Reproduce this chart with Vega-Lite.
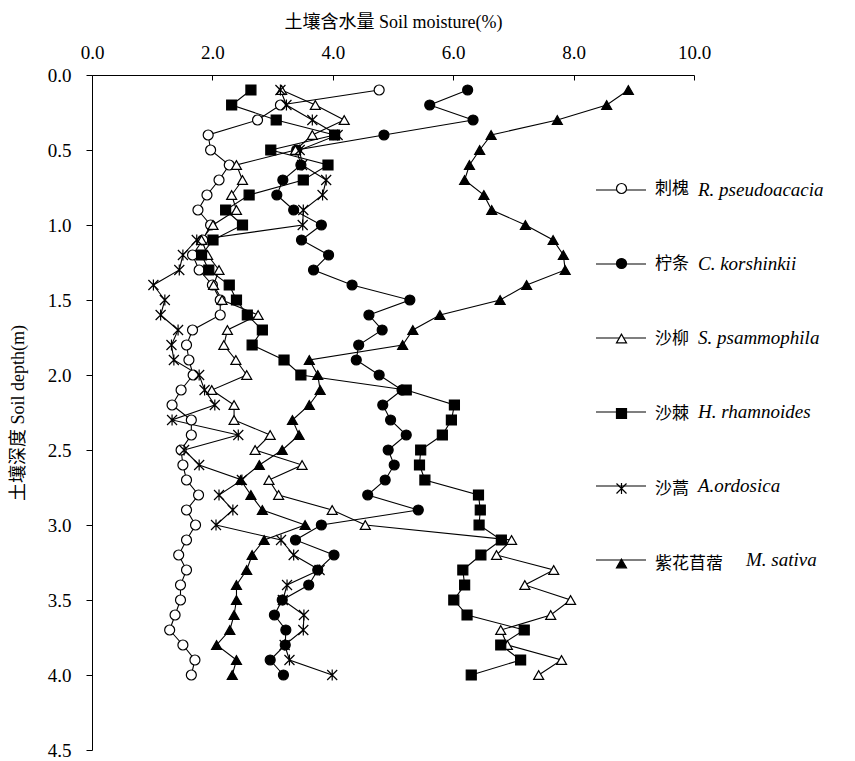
{
  "$schema": "https://vega.github.io/schema/vega-lite/v6.json",
  "width": 602,
  "height": 675,
  "autosize": {"type": "none"},
  "padding": {"left": 92, "top": 75, "right": 161, "bottom": 11},
  "background": "white",
  "config": {"view": {"stroke": null}, "font": "Liberation Serif"},
  "datasets": {
    "series": [
      {"key": "R", "cn": "刺槐", "latin": "R. pseudoacacia"},
      {"key": "C", "cn": "柠条", "latin": "C. korshinkii"},
      {"key": "S", "cn": "沙柳", "latin": "S. psammophila"},
      {"key": "H", "cn": "沙棘", "latin": "H. rhamnoides"},
      {"key": "A", "cn": "沙蒿", "latin": "A.ordosica"},
      {"key": "M", "cn": "紫花苜蓿", "latin": "M. sativa"}
    ],
    "main": [
      {"depth": 0.1, "R": 4.77, "C": 6.24, "S": 3.15, "H": 2.64, "A": 3.13, "M": 8.91},
      {"depth": 0.2, "R": 3.13, "C": 5.61, "S": 3.71, "H": 2.32, "A": 3.23, "M": 8.55},
      {"depth": 0.3, "R": 2.75, "C": 6.33, "S": 4.19, "H": 3.06, "A": 3.66, "M": 7.73},
      {"depth": 0.4, "R": 1.93, "C": 4.85, "S": 3.66, "H": 4.03, "A": 4.08, "M": 6.63},
      {"depth": 0.5, "R": 1.97, "C": 3.40, "S": 3.38, "H": 2.97, "A": 3.45, "M": 6.44},
      {"depth": 0.6, "R": 2.28, "C": 3.47, "S": 2.40, "H": 3.92, "A": 3.49, "M": 6.27},
      {"depth": 0.7, "R": 2.11, "C": 3.17, "S": 2.50, "H": 3.51, "A": 3.89, "M": 6.19},
      {"depth": 0.8, "R": 1.91, "C": 3.07, "S": 2.32, "H": 2.61, "A": 3.83, "M": 6.51},
      {"depth": 0.9, "R": 1.76, "C": 3.35, "S": 2.40, "H": 2.22, "A": 3.51, "M": 6.64},
      {"depth": 1.0, "R": 1.97, "C": 3.81, "S": 2.01, "H": 2.50, "A": 3.50, "M": 7.20},
      {"depth": 1.1, "R": 1.84, "C": 3.48, "S": 1.82, "H": 2.01, "A": 1.74, "M": 7.66},
      {"depth": 1.2, "R": 1.67, "C": 3.93, "S": 1.92, "H": 1.82, "A": 1.51, "M": 7.83},
      {"depth": 1.3, "R": 1.78, "C": 3.68, "S": 2.11, "H": 1.94, "A": 1.45, "M": 7.86},
      {"depth": 1.4, "R": 2.00, "C": 4.32, "S": 2.02, "H": 2.28, "A": 1.02, "M": 7.22},
      {"depth": 1.5, "R": 2.13, "C": 5.28, "S": 2.16, "H": 2.40, "A": 1.21, "M": 6.78},
      {"depth": 1.6, "R": 2.13, "C": 4.60, "S": 2.76, "H": 2.58, "A": 1.14, "M": 5.78},
      {"depth": 1.7, "R": 1.67, "C": 4.82, "S": 2.25, "H": 2.83, "A": 1.43, "M": 5.33},
      {"depth": 1.8, "R": 1.57, "C": 4.43, "S": 2.19, "H": 2.66, "A": 1.32, "M": 5.16},
      {"depth": 1.9, "R": 1.61, "C": 4.39, "S": 2.39, "H": 3.19, "A": 1.36, "M": 3.61},
      {"depth": 2.0, "R": 1.68, "C": 4.77, "S": 2.57, "H": 3.47, "A": 1.78, "M": 3.75},
      {"depth": 2.1, "R": 1.48, "C": 5.15, "S": 1.99, "H": 5.22, "A": 1.87, "M": 3.79},
      {"depth": 2.2, "R": 1.33, "C": 4.83, "S": 2.36, "H": 6.02, "A": 2.04, "M": 3.61},
      {"depth": 2.3, "R": 1.65, "C": 4.96, "S": 2.36, "H": 5.97, "A": 1.33, "M": 3.33},
      {"depth": 2.4, "R": 1.65, "C": 5.22, "S": 2.96, "H": 5.82, "A": 2.43, "M": 3.44},
      {"depth": 2.5, "R": 1.48, "C": 4.92, "S": 2.71, "H": 5.46, "A": 1.53, "M": 3.16},
      {"depth": 2.6, "R": 1.51, "C": 5.02, "S": 3.49, "H": 5.44, "A": 1.78, "M": 2.78},
      {"depth": 2.7, "R": 1.57, "C": 4.87, "S": 2.94, "H": 5.53, "A": 2.49, "M": 2.47},
      {"depth": 2.8, "R": 1.77, "C": 4.58, "S": 3.10, "H": 6.42, "A": 2.11, "M": 2.64},
      {"depth": 2.9, "R": 1.57, "C": 5.42, "S": 3.99, "H": 6.45, "A": 2.34, "M": 2.83},
      {"depth": 3.0, "R": 1.72, "C": 3.81, "S": 4.54, "H": 6.43, "A": 2.06, "M": 3.54},
      {"depth": 3.1, "R": 1.57, "C": 3.38, "S": 6.97, "H": 6.80, "A": 3.14, "M": 2.86},
      {"depth": 3.2, "R": 1.44, "C": 4.02, "S": 6.72, "H": 6.46, "A": 3.35, "M": 2.66},
      {"depth": 3.3, "R": 1.57, "C": 3.75, "S": 7.67, "H": 6.16, "A": 3.78, "M": 2.57},
      {"depth": 3.4, "R": 1.47, "C": 3.60, "S": 7.19, "H": 6.19, "A": 3.24, "M": 2.40},
      {"depth": 3.5, "R": 1.47, "C": 3.16, "S": 7.95, "H": 6.01, "A": 3.17, "M": 2.40},
      {"depth": 3.6, "R": 1.38, "C": 3.03, "S": 7.62, "H": 6.23, "A": 3.52, "M": 2.36},
      {"depth": 3.7, "R": 1.29, "C": 3.22, "S": 6.79, "H": 7.18, "A": 3.51, "M": 2.29},
      {"depth": 3.8, "R": 1.51, "C": 3.21, "S": 6.90, "H": 6.79, "A": 3.20, "M": 2.07},
      {"depth": 3.9, "R": 1.71, "C": 2.96, "S": 7.80, "H": 7.12, "A": 3.28, "M": 2.40},
      {"depth": 4.0, "R": 1.65, "C": 3.18, "S": 7.42, "H": 6.30, "A": 3.99, "M": 2.33}
    ]
  },
  "data": {"name": "main"},
  "transform": [
    {"fold": ["R", "C", "S", "H", "A", "M"], "as": ["key", "value"]},
    {"lookup": "key", "from": {"data": {"name": "series"}, "key": "key", "fields": ["cn", "latin"]}}
  ],
  "encoding": {
    "x": {
      "field": "value", "type": "quantitative",
      "scale": {"domain": [0, 10], "nice": false},
      "axis": {
        "orient": "top", "values": [0, 2, 4, 6, 8, 10], "format": ".1f",
        "title": "土壤含水量 Soil moisture(%)",
        "titleFont": "Liberation Serif, Noto Sans CJK SC", "titleFontSize": 18, "titleFontWeight": "normal", "titleColor": "black", "titlePadding": 12,
        "labelFont": "Liberation Serif", "labelFontSize": 19, "labelColor": "black", "labelPadding": 18, "labelFlush": false,
        "tickSize": -5, "tickColor": "black", "domainColor": "black", "grid": false
      }
    },
    "y": {
      "field": "depth", "type": "quantitative",
      "scale": {"domain": [0, 4.5], "reverse": true, "nice": false},
      "axis": {
        "values": [0, 0.5, 1, 1.5, 2, 2.5, 3, 3.5, 4, 4.5], "format": ".1f",
        "title": "土壤深度 Soil depth(m)",
        "titleFont": "Liberation Serif, Noto Sans CJK SC", "titleFontSize": 18, "titleFontWeight": "normal", "titleColor": "black", "titlePadding": 20,
        "labelFont": "Liberation Serif", "labelFontSize": 19, "labelColor": "black", "labelPadding": 15, "labelFlush": false,
        "tickSize": 6, "tickColor": "black", "domainColor": "black", "grid": false
      }
    }
  },
  "layer": [
    {
      "mark": {"type": "line", "strokeWidth": 1.1},
      "encoding": {
        "color": {
          "field": "latin", "type": "nominal",
          "scale": {"domain": ["R. pseudoacacia", "C. korshinkii", "S. psammophila", "H. rhamnoides", "A.ordosica", "M. sativa"], "range": ["black", "black", "black", "black", "black", "black"]},
          "legend": {
            "orient": "none", "legendX": 503, "legendY": 89, "title": null, "padding": 0,
            "symbolType": "stroke", "symbolSize": 2500, "symbolStrokeWidth": 1.2, "symbolStrokeColor": "black",
            "labelFont": "Liberation Serif", "labelFontStyle": "italic", "labelFontSize": 19, "labelColor": "black",
            "labelOffset": 51, "labelLimit": 300, "rowPadding": 38,
            "encode": {"labels": {"update": {"dx": {"signal": "datum.value === 'M. sativa' ? 48 : 0"}}}}
          }
        },
        "order": {"field": "depth", "type": "quantitative"}
      }
    },
    {
      "mark": {"type": "point", "filled": false, "opacity": 1, "stroke": "black", "strokeWidth": 1.2, "size": 100},
      "encoding": {
        "shape": {
          "field": "cn", "type": "nominal",
          "scale": {"domain": ["刺槐", "柠条", "沙柳", "沙棘", "沙蒿", "紫花苜蓿"], "range": ["circle", "circle", "triangle-up", "square", "M-1,-1L1,1M-1,1L1,-1M0,-1.1L0,1.1", "triangle-up"]},
          "legend": {
            "orient": "none", "legendX": 521, "legendY": 105, "title": null, "padding": 0,
            "symbolSize": 100, "symbolStrokeWidth": 1.2,
            "labelFont": "Noto Sans CJK SC", "labelFontSize": 17, "labelColor": "black", "labelOffset": 25, "rowPadding": 57
          }
        },
        "fill": {
          "field": "cn", "type": "nominal",
          "scale": {"domain": ["刺槐", "柠条", "沙柳", "沙棘", "沙蒿", "紫花苜蓿"], "range": ["white", "black", "white", "black", "black", "black"]},
          "legend": {
            "orient": "none", "legendX": 521, "legendY": 105, "title": null, "padding": 0,
            "symbolSize": 100, "symbolStrokeWidth": 1.2,
            "labelFont": "Noto Sans CJK SC", "labelFontSize": 17, "labelColor": "black", "labelOffset": 25, "rowPadding": 57
          }
        }
      }
    }
  ]
}
